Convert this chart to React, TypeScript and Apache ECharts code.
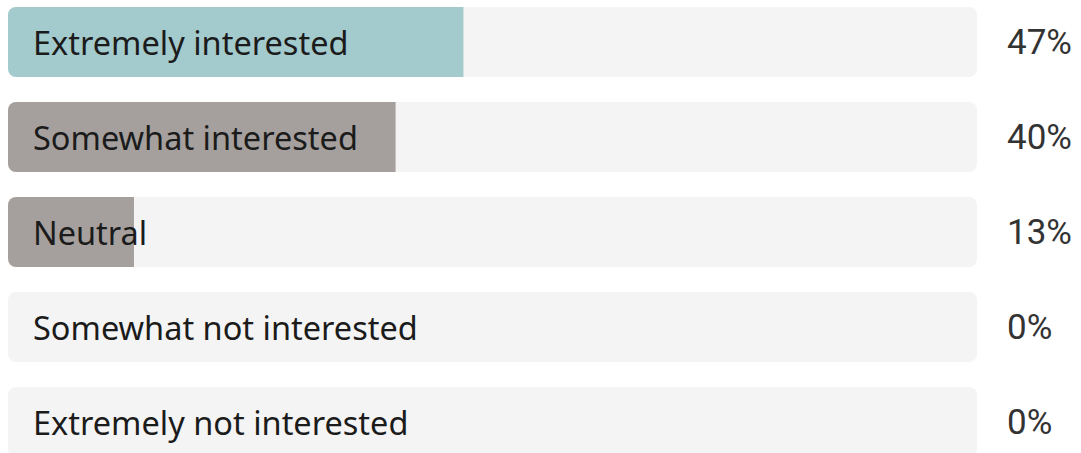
import React, { useEffect, useRef } from "react";
import * as echarts from "echarts";

const categories = [
  "Extremely interested",
  "Somewhat interested",
  "Neutral",
  "Somewhat not interested",
  "Extremely not interested",
];
const values = [47, 40, 13, 0, 0];
const fillColors = ["#a3cacc", "#a5a09d", "#a5a09d", "#a5a09d", "#a5a09d"];
const percentLabels = ["47%", "40%", "13%", "0%", "0%"];
const trackValues = [100, 100, 100, 100, 100];

export default function App() {
  const ref = useRef<HTMLDivElement>(null);
  useEffect(() => {
    const chart = echarts.init(ref.current!, null, { renderer: "svg" });
    chart.setOption({
      animation: false,
      grid: { left: 8, right: 104, top: 6.5, height: 475 },
      xAxis: { type: "value", min: 0, max: 100, show: false },
      yAxis: [
        {
          type: "category",
          data: categories,
          inverse: true,
          position: "left",
          z: 10,
          axisLine: { show: false },
          axisTick: { show: false },
          axisLabel: {
            inside: true,
            margin: 25,
            fontSize: 32.5,
            color: "#1b1b1b",
            fontFamily: "Noto Sans",
            padding: [5, 0, 0, 0],
          },
        },
        {
          type: "category",
          data: percentLabels,
          inverse: true,
          position: "right",
          axisLine: { show: false },
          axisTick: { show: false },
          axisLabel: {
            margin: 30,
            align: "left",
            fontSize: 35,
            color: "#333",
            fontFamily: "Roboto",
            padding: [6, 0, 0, 0],
          },
        },
      ],
      series: [
        {
          type: "bar",
          data: trackValues,
          barWidth: 70,
          barGap: "-100%",
          itemStyle: { color: "#f4f4f4", borderRadius: 8 },
          silent: true,
          z: 1,
        },
        {
          type: "bar",
          data: values.map((v, i) => ({ value: v, itemStyle: { color: fillColors[i] } })),
          barWidth: 70,
          barGap: "-100%",
          itemStyle: { borderRadius: [8, 0, 0, 8] },
          silent: true,
          z: 2,
        },
      ],
    });
    return () => chart.dispose();
  }, []);
  return (
    <div
      style={{ position: "fixed", left: 0, top: 0, width: 1081, height: 453, overflow: "hidden", background: "#fff" }}
    >
      <div
        ref={ref}
        style={{ position: "absolute", left: 0, top: -12, width: 1081, height: 500 }}
      />
    </div>
  );
}
